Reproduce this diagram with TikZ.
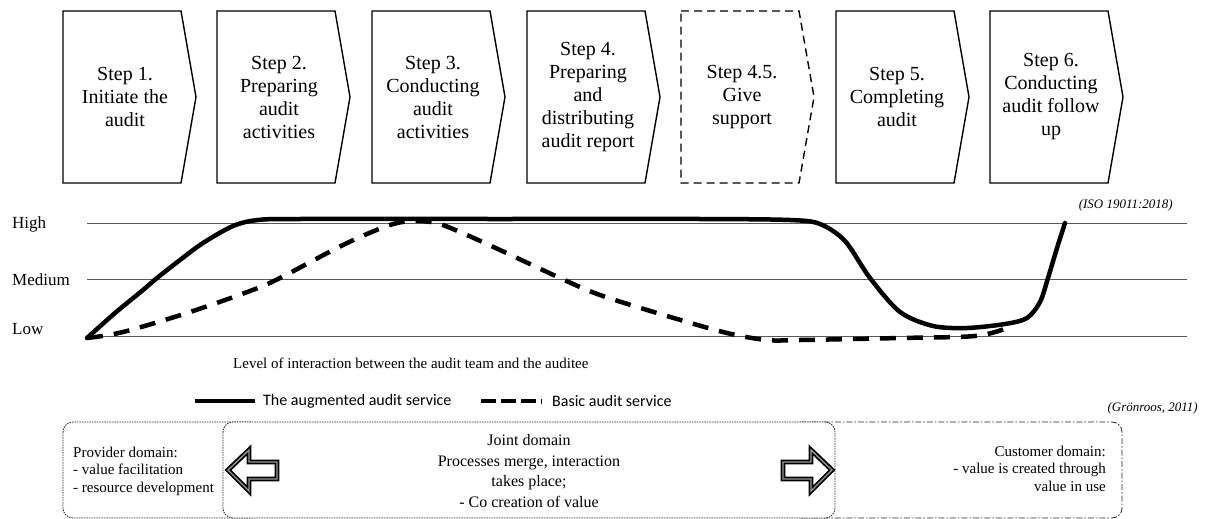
\documentclass[tikz,border=0pt]{standalone}
\usepackage{fontspec}
\setmainfont{Liberation Serif}
\newfontfamily\legendfont{Carlito}
\begin{document}
\begin{tikzpicture}[x=1pt,y=-1pt,
  stepbox/.style={draw=black, line width=1.4pt, line join=miter},
  steptext/.style={align=center, font=\fontsize{20}{23}\selectfont, inner sep=0pt},
  levelline/.style={draw=black!65, line width=1pt},
  levellabel/.style={anchor=base west, font=\fontsize{17}{19}\selectfont, inner sep=0pt},
  augmented/.style={line width=4.5pt, line cap=round, line join=round},
  basic/.style={line width=4.5pt, dash pattern=on 16pt off 11pt},
  source/.style={font=\fontsize{13}{15}\selectfont\itshape, inner sep=0pt},
  legendtext/.style={anchor=west, font=\legendfont\fontsize{16}{18}\selectfont, inner sep=0pt},
  dotbox/.style={draw=black!85, line width=0.8pt, dash pattern=on 1.5pt off 1pt, rounded corners=10pt},
  dashdotbox/.style={draw=black!85, line width=0.8pt, dash pattern=on 6pt off 2pt on 1.5pt off 2pt, rounded corners=10pt},
  domaintext/.style={font=\fontsize{15}{17.5}\selectfont, inner sep=0pt},
  blockarrow/.style={draw=black, line width=1.8pt, double=black!40, double distance=1.3pt, line join=miter}
]
\useasboundingbox (0,0) rectangle (1207,519);

% process steps
\newcommand\StepChevron[2]{%
  \draw[stepbox,#2] (#1,11) -- ++(118,0) -- ++(15,86) -- ++(-15,86) -- ++(-118,0) -- cycle;}
\StepChevron{63}{}
\StepChevron{217}{}
\StepChevron{372}{}
\StepChevron{527}{}
\StepChevron{681}{dashed, dash pattern=on 8pt off 5pt}
\StepChevron{836}{}
\StepChevron{990}{}

\node[steptext] (s1) at (125,97) {Step 1.\\Initiate the\\audit};
\node[steptext] (s2) at (279,97) {Step 2.\\Preparing\\audit\\activities};
\node[steptext] (s3) at (433,97) {Step 3.\\Conducting\\audit\\activities};
\node[steptext] (s4) at (588,97) {Step 4.\\Preparing\\and\\distributing\\audit report};
\node[steptext] (s45) at (742,97) {Step 4.5.\\Give\\support};
\node[steptext] (s5) at (897,97) {Step 5.\\Completing\\audit};
\node[steptext] (s6) at (1051,97) {Step 6.\\Conducting\\audit follow\\up};

% interaction levels
\draw[levelline] (87,223) -- (1187,223);
\draw[levelline] (87,279) -- (1187,279);
\draw[levelline] (87,336) -- (1187,336);
\node[levellabel] (lhigh) at (12,228) {High};
\node[levellabel] (lmed) at (12,285) {Medium};
\node[levellabel] (llow) at (12,334) {Low};
\node[source, anchor=base east] (iso) at (1173,208) {(ISO 19011:2018)};

% basic audit service
\draw[basic] plot[smooth, tension=0.55] coordinates {
  (87,338) (123,332) (187,313) (250,291) (280,278) (343,245) (387,226)
  (412,221) (436,223) (460,232) (500,250) (560,278) (600,295) (667,316)
  (727,333) (767,340) (800,340) (900,338) (975,336) (1007,328)};

% augmented audit service
\draw[augmented] plot[smooth, tension=0.5] coordinates {
  (87,338) (115,313) (143,290) (157,278) (180,260) (203,243) (233,226)
  (258,220) (300,219) (500,219) (700,219) (790,220) (820,224) (845,241)
  (870,278) (900,312) (933,326) (967,328) (1005,324) (1027,318) (1040,302)
  (1048,278) (1057,248) (1065,223)};

\node[anchor=base west, font=\fontsize{15}{17}\selectfont, inner sep=0pt] (caption) at (233,368)
  {Level of interaction between the audit team and the auditee};

% legend
\coordinate (la1) at (195,401);
\coordinate (la2) at (255,401);
\draw[line width=4pt] (la1) -- (la2);
\node[legendtext] (lta) at (263,401) {The augmented audit service};
\coordinate (lb1) at (481,401);
\coordinate (lb2) at (537,401);
\draw[line width=4pt, dash pattern=on 15pt off 5pt] (lb1) -- (lb2);
\draw[line width=0.8pt] (541,398.5) -- (541,403.5);
\node[legendtext] (ltb) at (552,401) {Basic audit service};
\node[source, anchor=base east] (gron) at (1198,411) {(Grönroos, 2011)};

% value domains
\draw[dotbox] (63,422) rectangle (260,518);
\draw[dashdotbox] (790,422) rectangle (1122,518);
\draw[dotbox, fill=white] (223,422) rectangle (835,518);

% multi-line nodes: the base anchor sits on the last line
\node[domaintext, align=left, anchor=base west] (prov) at (73,492)
  {Provider domain:\\- value facilitation\\- resource development};
\node[domaintext, align=right, anchor=base east] (cust) at (1106,491)
  {Customer domain:\\- value is created through\\value in use};
\node[align=center, font=\fontsize{16}{20.5}\selectfont, inner sep=0pt, anchor=base] (joint) at (529,507)
  {Joint domain\\Processes merge, interaction\\takes place;\\- Co creation of value};

% outline arrows
\draw[blockarrow] (228,470) -- (249,450) -- (249,462) -- (277,462) -- (277,479) -- (249,479) -- (249,491) -- cycle;
\draw[blockarrow] (832,470) -- (811,450) -- (811,462) -- (783,462) -- (783,479) -- (811,479) -- (811,491) -- cycle;
\end{tikzpicture}
\end{document}
